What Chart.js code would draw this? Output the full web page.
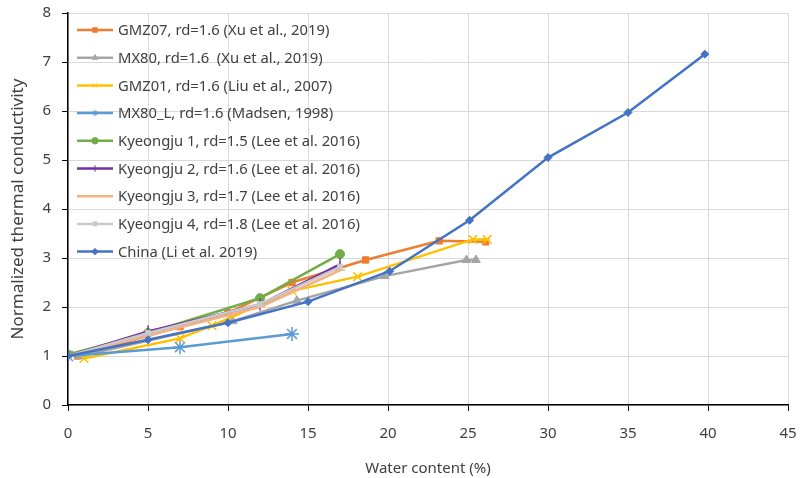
<!DOCTYPE html>
<html>
<head>
<meta charset="utf-8">
<script src="https://cdn.jsdelivr.net/npm/chart.js@4/dist/chart.umd.min.js"></script>
<style>
  html, body { margin: 0; padding: 0; background: #fff; }
  #wrap { width: 801px; height: 478px; position: relative; }
</style>
</head>
<body>
<div id="wrap"><canvas id="c" width="801" height="478"></canvas></div>
<script>
// Water content (%) and normalized thermal conductivity per series
const seriesLabels = [
  'GMZ07, rd=1.6 (Xu et al., 2019)',
  'MX80, rd=1.6  (Xu et al., 2019)',
  'GMZ01, rd=1.6 (Liu et al., 2007)',
  'MX80_L, rd=1.6 (Madsen, 1998)',
  'Kyeongju 1, rd=1.5 (Lee et al. 2016)',
  'Kyeongju 2, rd=1.6 (Lee et al. 2016)',
  'Kyeongju 3, rd=1.7 (Lee et al. 2016)',
  'Kyeongju 4, rd=1.8 (Lee et al. 2016)',
  'China (Li et al. 2019)'
];

const waterGMZ07 = [0.6, 7, 10, 14, 18.6, 23.2, 26.1];
const condGMZ07  = [1.0, 1.6, 1.88, 2.5, 2.96, 3.35, 3.33];

const waterMX80 = [0.8, 10.3, 14.3, 19.8, 24.9, 25.5];
const condMX80  = [1.0, 1.71, 2.13, 2.63, 2.96, 2.96];

const waterGMZ01 = [1.0, 7.0, 9.0, 14.0, 18.1, 25.3, 26.2];
const condGMZ01  = [0.95, 1.36, 1.62, 2.33, 2.62, 3.38, 3.38];

const waterMX80L = [0, 7, 14];
const condMX80L  = [1.0, 1.18, 1.45];

const waterKyeongju = [0, 5, 12, 17];
const condKyeongju1 = [1.03, 1.47, 2.18, 3.08];
const condKyeongju2 = [1.0, 1.5, 2.05, 2.87];
const condKyeongju3 = [1.0, 1.42, 2.0, 2.75];
const condKyeongju4 = [1.0, 1.47, 2.06, 2.82];

const waterChina = [0, 5, 10, 15, 20.1, 25.1, 30, 35, 39.8];
const condChina  = [1.0, 1.33, 1.68, 2.11, 2.73, 3.77, 5.05, 5.97, 7.16];

const xTicks = [0, 5, 10, 15, 20, 25, 30, 35, 40, 45];
const yTicks = [0, 1, 2, 3, 4, 5, 6, 7, 8];

function pts(xs, ys) { return xs.map((x, i) => ({ x: x, y: ys[i] })); }

const styles = [
  { color: '#ED7D31', point: 'rect',     radius: 4.5, rotation: 0 },
  { color: '#A5A5A5', point: 'triangle', radius: 5,   rotation: 0 },
  { color: '#FFC000', point: 'crossRot', radius: 6,   rotation: 0 },
  { color: '#5B9BD5', point: 'star',     radius: 7,   rotation: 0 },
  { color: '#70AD47', point: 'circle',   radius: 4.5, rotation: 0 },
  { color: '#7030A0', point: 'line',     radius: 6,   rotation: 90 },
  { color: '#F4B183', point: 'line',     radius: 5,   rotation: 0 },
  { color: '#C9C9C9', point: 'rect',     radius: 3.5, rotation: 0 },
  { color: '#4472C4', point: 'rectRot',  radius: 4,   rotation: 0 }
];

const seriesData = [
  pts(waterGMZ07, condGMZ07),
  pts(waterMX80, condMX80),
  pts(waterGMZ01, condGMZ01),
  pts(waterMX80L, condMX80L),
  pts(waterKyeongju, condKyeongju1),
  pts(waterKyeongju, condKyeongju2),
  pts(waterKyeongju, condKyeongju3),
  pts(waterKyeongju, condKyeongju4),
  pts(waterChina, condChina)
];

const datasets = seriesData.map((d, i) => ({
  label: seriesLabels[i],
  data: d,
  borderColor: styles[i].color,
  backgroundColor: styles[i].color,
  borderWidth: 2.5,
  pointStyle: styles[i].point,
  pointRadius: styles[i].radius,
  pointRotation: styles[i].rotation,
  pointBorderWidth: (styles[i].point === 'crossRot' || styles[i].point === 'star' || styles[i].point === 'line') ? 1.5 : 1,
  pointBorderColor: styles[i].color,
  pointBackgroundColor: styles[i].color,
  showLine: true,
  tension: 0,
  // later series are painted over earlier ones
  order: seriesData.length - i
}));

const FONT = '"Noto Sans", "Liberation Sans", sans-serif';
const TEXT = '#404040';

// Legend listed vertically inside the top-left of the plot area
const insideLegend = {
  id: 'insideLegend',
  afterDatasetsDraw(chart) {
    const ctx = chart.ctx;
    const area = chart.chartArea;
    const x0 = area.left + 9;
    const lineLen = 36;
    let y = area.top + 17;
    const step = 27.7;
    ctx.save();
    ctx.font = '14.8px ' + FONT;
    ctx.textBaseline = 'middle';
    chart.data.datasets.forEach((ds) => {
      ctx.strokeStyle = ds.borderColor;
      ctx.lineWidth = 2.5;
      ctx.beginPath();
      ctx.moveTo(x0, y);
      ctx.lineTo(x0 + lineLen, y);
      ctx.stroke();
      ctx.fillStyle = ds.backgroundColor;
      ctx.strokeStyle = ds.borderColor;
      ctx.lineWidth = 1;
      Chart.helpers.drawPoint(ctx, {
        pointStyle: ds.pointStyle,
        radius: Math.min(ds.pointRadius, 4) * 0.8,
        rotation: ds.pointRotation,
        borderWidth: 1
      }, x0 + lineLen / 2, y);
      ctx.fillStyle = TEXT;
      ctx.fillText(ds.label, x0 + lineLen + 5, y + 1);
      y += step;
    });
    ctx.restore();
  }
};

new Chart(document.getElementById('c'), {
  type: 'scatter',
  data: { datasets: datasets },
  plugins: [insideLegend],
  options: {
    responsive: false,
    animation: false,
    layout: { autoPadding: false, padding: { top: 13, right: 13, left: 4, bottom: 0 } },
    plugins: { legend: { display: false }, tooltip: { enabled: false } },
    scales: {
      x: {
        type: 'linear',
        min: 0, max: 45,
        afterBuildTicks: s => { s.ticks = xTicks.map(v => ({ value: v })); },
        afterFit: s => { s.height = 73; s.paddingLeft = 0; s.paddingRight = 0; },
        grid: { color: '#D9D9D9', lineWidth: 1, tickColor: '#000', tickLength: 6, drawTicks: true },
        border: { color: '#000', width: 1.5 },
        ticks: { color: TEXT, font: { family: FONT, size: 15 }, padding: 14 },
        title: { display: true, text: 'Water content (%)', color: TEXT,
                 font: { family: FONT, size: 15 }, padding: { top: 8, bottom: 0 } }
      },
      y: {
        type: 'linear',
        min: 0, max: 8,
        afterBuildTicks: s => { s.ticks = yTicks.map(v => ({ value: v })); },
        afterFit: s => { s.width = 64; s.paddingTop = 0; s.paddingBottom = 0; },
        grid: { color: '#D9D9D9', lineWidth: 1, tickColor: '#000', tickLength: 6, drawTicks: true },
        border: { color: '#000', width: 1.5 },
        ticks: { color: TEXT, font: { family: FONT, size: 15 }, padding: 11 },
        title: { display: true, text: 'Normalized thermal conductivity', color: TEXT,
                 font: { family: FONT, size: 17 }, padding: { top: 4, bottom: 2 } }
      }
    }
  }
});
</script>
</body>
</html>
